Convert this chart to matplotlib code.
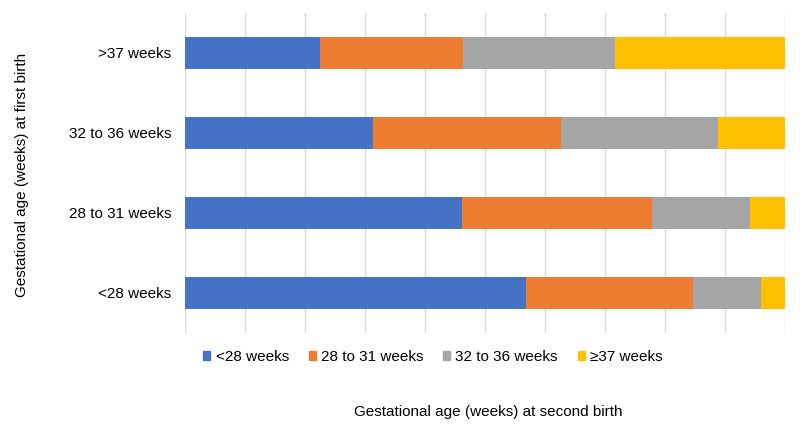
import numpy as np
import matplotlib.pyplot as plt
from matplotlib.patches import Patch

plt.rcParams['font.family'] = ['Liberation Sans', 'DejaVu Sans']

# first-birth categories (bottom to top)
first_birth = ["<28 weeks", "28 to 31 weeks", "32 to 36 weeks", ">37 weeks"]
series = ["<28 weeks", "28 to 31 weeks", "32 to 36 weeks", "\u226537 weeks"]

# percentage of second births in each gestational-age group
lt28 = [56.8, 46.2, 31.3, 22.5]
w28_31 = [27.8, 31.6, 31.4, 23.8]
w32_36 = [11.4, 16.4, 26.1, 25.3]
ge37 = [4.0, 5.8, 11.2, 28.4]

colors = ["#4472C4", "#ED7D31", "#A5A5A5", "#FFC000"]


def main():
    fig = plt.figure(figsize=(8, 4.34), dpi=100)
    ax = fig.add_axes([185 / 800, 1 - 333 / 434, 600 / 800, 320 / 434])

    y = np.arange(len(first_birth))
    left = np.zeros(len(first_birth))
    for vals, c in zip([lt28, w28_31, w32_36, ge37], colors):
        ax.barh(y, vals, left=left, height=0.39, color=c, zorder=3)
        left += np.array(vals)

    ax.set_xlim(0, 100)
    ax.set_ylim(-0.5, len(first_birth) - 0.5)
    ax.set_xticks(np.arange(0, 101, 10))
    ax.set_xticklabels([])
    ax.tick_params(axis="x", length=0)
    ax.tick_params(axis="y", length=0, pad=10, labelsize=11)
    ax.set_yticks(y)
    ax.set_yticklabels(first_birth)
    ax.grid(axis="x", color="#D9D9D9", linewidth=1, zorder=0)
    for s in ax.spines.values():
        s.set_visible(False)

    handles = [Patch(color=c, label=l) for c, l in zip(colors, series)]
    fig.legend(handles=handles, loc="center", bbox_to_anchor=(433 / 800, 1 - 357 / 434),
               ncol=4, frameon=False, fontsize=11, handlelength=0.45, handleheight=0.45,
               handletextpad=0.35, columnspacing=1.3)

    fig.text(488 / 800, 1 - 412 / 434, "Gestational age (weeks) at second birth",
             ha="center", va="center", fontsize=11)
    fig.text(22 / 800, 1 - 175 / 434, "Gestational age (weeks) at first birth",
             ha="center", va="center", rotation=90, fontsize=11)

    fig.savefig("out.png", dpi=100)


if __name__ == '__main__':
    main()
